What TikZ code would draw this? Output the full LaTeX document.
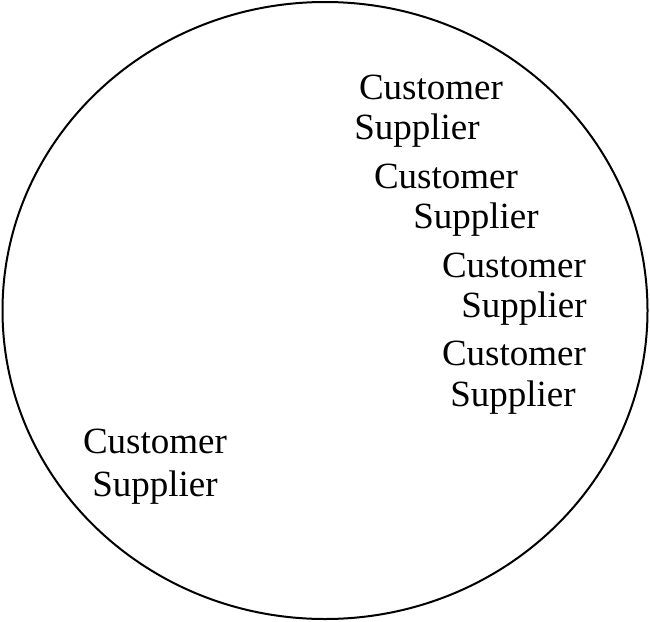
\documentclass[tikz,border=0pt]{standalone}
\usepackage{fontspec}
\setmainfont{Liberation Serif}
\usetikzlibrary{shapes.geometric}
\begin{document}
\begin{tikzpicture}[x=1pt,y=-1pt,lab/.style={font=\fontsize{37}{37}\selectfont,inner sep=0pt}]
\useasboundingbox (0,0) rectangle (650,621);
\node[draw,line width=2pt,ellipse,minimum width=645pt,minimum height=617pt,inner sep=0pt] (c) at (325,310.5) {};
\node[lab] (t1) at (431,87) {Customer};
\node[lab] (t2) at (417,131) {Supplier};
\node[lab] (t3) at (446,176) {Customer};
\node[lab] (t4) at (476,220) {Supplier};
\node[lab] (t5) at (514,265) {Customer};
\node[lab] (t6) at (524,309) {Supplier};
\node[lab] (t7) at (514,353) {Customer};
\node[lab] (t8) at (513,398) {Supplier};
\node[lab] (t9) at (155,441) {Customer};
\node[lab] (t10) at (155,488) {Supplier};
\end{tikzpicture}
\end{document}
